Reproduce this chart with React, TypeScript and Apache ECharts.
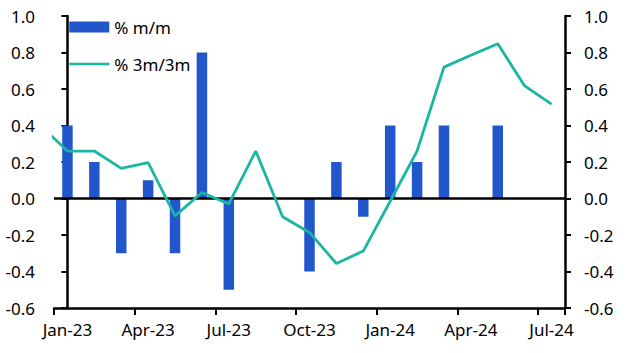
import React, { useEffect, useRef } from "react";
import * as echarts from "echarts";

const months = [
  "Jan-23", "Feb-23", "Mar-23", "Apr-23", "May-23", "Jun-23", "Jul-23", "Aug-23", "Sep-23", "Oct-23",
  "Nov-23", "Dec-23", "Jan-24", "Feb-24", "Mar-24", "Apr-24", "May-24", "Jun-24", "Jul-24",
];
const momValues = [0.4, 0.2, -0.3, 0.1, -0.3, 0.8, -0.5, 0, 0, -0.4, 0.2, -0.1, 0.4, 0.2, 0.4, 0, 0.4, 0, 0];
// starts at Dec-22 (index -1, mostly outside the plot)
const threeMValues = [
  0.40, 0.26, 0.26, 0.165, 0.197, -0.095, 0.033, -0.03, 0.26, -0.1, -0.186, -0.356, -0.288, -0.015, 0.26, 0.72,
  0.785, 0.848, 0.617, 0.517,
];
const yTicks = { min: -0.6, max: 1.0, step: 0.2 };

const FONT = "Noto Sans";
const BLUE = "#2257cc";
const TEAL = "#1ab6a4";

export default function App() {
  const ref = useRef<HTMLDivElement>(null);
  useEffect(() => {
    if (!ref.current) return;
    const chart = echarts.init(ref.current, undefined, { renderer: "svg" });
    const lineData = threeMValues.map((v, i) => [i - 1, v]);
    const yAxisCommon = {
      type: "value",
      min: yTicks.min,
      max: yTicks.max,
      interval: yTicks.step,
      splitLine: { show: false },
      axisLine: { show: true, lineStyle: { color: "#000", width: 2.5 } },
      axisTick: { show: true, length: 6, lineStyle: { color: "#000", width: 2 } },
      axisLabel: {
        color: "#000",
        fontFamily: FONT,
        fontSize: 17,
        margin: 19,
        formatter: (v: number) => v.toFixed(1),
      },
    };
    chart.setOption({
      animation: false,
      textStyle: { fontFamily: FONT },
      grid: { left: 54, right: 62, top: 16, bottom: 45 },
      legend: {
        orient: "vertical",
        left: 63,
        top: 12,
        itemWidth: 40,
        itemHeight: 11,
        itemGap: 17,
        textStyle: { color: "#000", fontFamily: FONT, fontSize: 17, lineHeight: 20 },
        data: [
          { name: "% m/m", icon: "rect" },
          { name: "% 3m/3m", itemStyle: { opacity: 0 }, lineStyle: { width: 2.5 } },
        ],
      },
      xAxis: [
        {
          type: "category",
          data: months,
          boundaryGap: true,
          axisLine: { show: true, onZero: false, lineStyle: { color: "#000", width: 2.5 } },
          axisTick: { show: true, interval: 2, length: 7, lineStyle: { color: "#000", width: 2 } },
          axisLabel: { interval: 2, color: "#000", fontFamily: FONT, fontSize: 17, margin: 13 },
          splitLine: { show: false },
        },
        {
          type: "value",
          min: -0.5,
          max: months.length - 0.5,
          show: false,
          splitLine: { show: false },
        },
      ],
      yAxis: [
        { ...yAxisCommon, position: "left" },
        { ...yAxisCommon, position: "right" },
      ],
      series: [
        {
          name: "% m/m",
          type: "bar",
          data: momValues,
          barWidth: 10.5,
          itemStyle: { color: BLUE },
          xAxisIndex: 0,
          yAxisIndex: 0,
          markLine: {
            silent: true,
            symbol: "none",
            label: { show: false },
            lineStyle: { color: "#000", width: 2.5, type: "solid" },
            data: [{ yAxis: 0 }],
          },
        },
        {
          name: "% 3m/3m",
          type: "line",
          data: lineData,
          xAxisIndex: 1,
          yAxisIndex: 0,
          symbol: "none",
          showSymbol: false,
          clip: true,
          lineStyle: { color: TEAL, width: 2.8 },
          itemStyle: { color: TEAL },
          z: 5,
        },
      ],
    });
    return () => chart.dispose();
  }, []);
  return <div ref={ref} style={{ width: 627, height: 353, position: "absolute", left: 0, top: 0 }} />;
}
